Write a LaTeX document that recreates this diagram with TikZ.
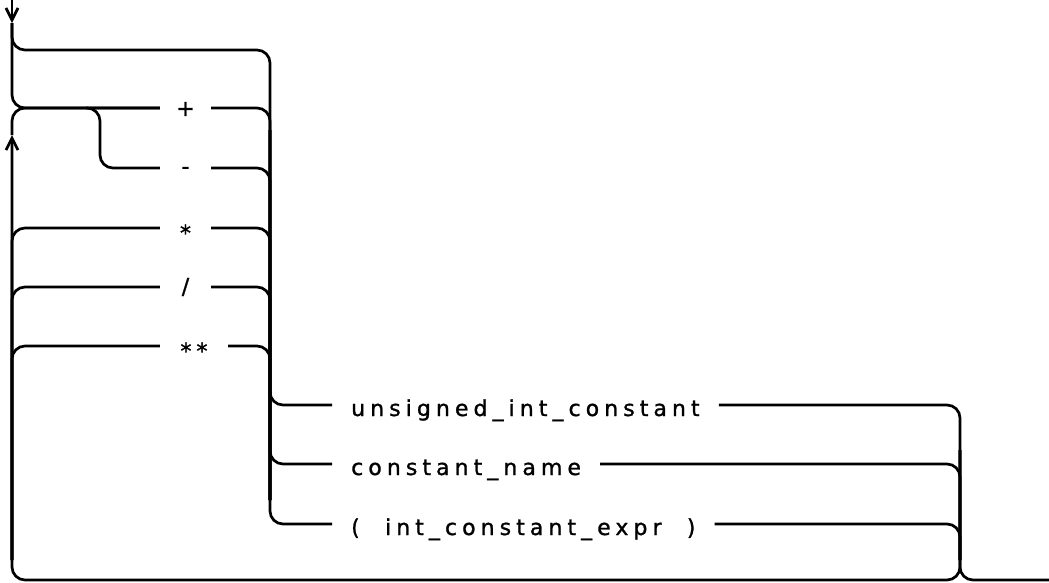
\documentclass[tikz,border=0pt]{standalone}
\usepackage{fontspec}
\newfontfamily\railfont[LetterSpace=23, FakeBold=1.2, WordSpace=2.1]{DejaVu Sans}
\usetikzlibrary{arrows.meta}

\begin{document}
\begin{tikzpicture}[x=1pt, y=1pt,
    rail/.style={line width=2.7pt, rounded corners=13pt},
    railarrow/.style={rail, -{Straight Barb[length=12pt, width=12pt]}},
    word/.style={font=\railfont\fontsize{22}{22}\selectfont, inner ysep=0pt, inner xsep=19pt, text height=22pt, text depth=0pt, anchor=west},
    op/.style={font=\railfont\fontsize{22}{22}\selectfont, inner sep=0pt, text height=#1, text depth=0pt}
  ]
  \useasboundingbox (0,0) rectangle (1049,-582);

  \node[op=15.8pt, minimum width=51pt] (plus) at (185.5,-108) {+};
  \node[op=11.9pt, minimum width=51pt] (minus) at (185.5,-168) {-};
  \node[op=25.5pt, minimum width=51pt] (times) at (185.5,-228) {*};
  \node[op=14pt, minimum width=51pt] (divide) at (185.5,-287) {/};
  \node[op=25.5pt, minimum width=68pt] (power) at (194,-346) {**};
  \node[word] (uic) at (332,-405) {unsigned\_int\_constant};
  \node[word] (cname) at (332,-464) {constant\_name};
  \node[word] (cexpr) at (332,-524) {( int\_constant\_expr )};

  \coordinate (start) at (12,0);
  \coordinate (entry) at (12,-23);
  \coordinate (midtop) at (270,-50);
  \coordinate (midhigh) at (270,-130);
  \coordinate (midlow) at (270,-500);
  \coordinate (split) at (100,-108);
  \coordinate (leftlow) at (12,-560);
  \coordinate (loopup) at (12,-135);
  \coordinate (loopbot) at (12,-580);
  \coordinate (endmid) at (960,-450);
  \coordinate (endlow) at (960,-560);
  \coordinate (exit) at (1049,-580);

  \draw[railarrow] (start) -- (entry);
  \draw[rail] (entry) |- (midtop) |- (cexpr.west);
  \draw[rail] (entry) |- (plus.west);
  \draw[rail] ([xshift=-14pt]split) -- (split) |- (minus.west);
  \draw[rail] (leftlow) |- (times.west);
  \draw[rail] (leftlow) |- (divide.west);
  \draw[rail] (leftlow) |- (power.west);
  \draw[rail] (plus.east) -| (midlow);
  \draw[rail] (minus.east) -| (midlow);
  \draw[rail] (times.east) -| (midlow);
  \draw[rail] (divide.east) -| (midlow);
  \draw[rail] (power.east) -| (midlow);
  \draw[rail] (midhigh) |- (uic.west);
  \draw[rail] (midhigh) |- (cname.west);
  \draw[rail] (uic.east) -| (endlow);
  \draw[rail] (cname.east) -| (endlow);
  \draw[rail] (cexpr.east) -| (endlow);
  \draw[rail] (endmid) |- (exit);
  \draw[railarrow] (endmid) |- (loopbot) -- (loopup);
  \draw[rail] (loopup) |- (plus.west);
\end{tikzpicture}
\end{document}
